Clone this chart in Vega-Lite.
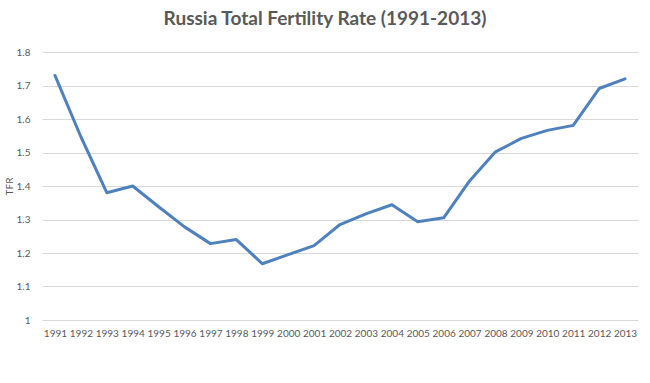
{
  "$schema": "https://vega.github.io/schema/vega-lite/v6.json",
  "autosize": "none",
  "width": 596,
  "height": 268,
  "padding": {"left": 42, "top": 52, "right": 12, "bottom": 63},
  "background": "white",
  "title": {
    "text": "Russia Total Fertility Rate (1991-2013)",
    "font": "Lato",
    "fontSize": 19,
    "fontWeight": "bold",
    "color": "#595959",
    "anchor": "middle",
    "dx": -15,
    "offset": 18
  },
  "data": {
    "values": [
      {"year": "1991", "tfr": 1.73},
      {"year": "1992", "tfr": 1.547},
      {"year": "1993", "tfr": 1.38},
      {"year": "1994", "tfr": 1.40},
      {"year": "1995", "tfr": 1.338},
      {"year": "1996", "tfr": 1.278},
      {"year": "1997", "tfr": 1.228},
      {"year": "1998", "tfr": 1.24},
      {"year": "1999", "tfr": 1.168},
      {"year": "2000", "tfr": 1.195},
      {"year": "2001", "tfr": 1.222},
      {"year": "2002", "tfr": 1.285},
      {"year": "2003", "tfr": 1.317},
      {"year": "2004", "tfr": 1.344},
      {"year": "2005", "tfr": 1.293},
      {"year": "2006", "tfr": 1.305},
      {"year": "2007", "tfr": 1.415},
      {"year": "2008", "tfr": 1.502},
      {"year": "2009", "tfr": 1.542},
      {"year": "2010", "tfr": 1.566},
      {"year": "2011", "tfr": 1.581},
      {"year": "2012", "tfr": 1.691},
      {"year": "2013", "tfr": 1.72}
    ]
  },
  "mark": {"type": "line", "color": "#4F81BD", "strokeWidth": 3, "strokeCap": "round", "strokeJoin": "round"},
  "encoding": {
    "x": {
      "field": "year",
      "type": "ordinal",
      "scale": {"type": "point", "padding": 0.5},
      "axis": {
        "title": null,
        "labelAngle": 0,
        "labelFont": "Lato",
        "labelFontSize": 10,
        "labelColor": "#595959",
        "labelPadding": 8,
        "ticks": false,
        "domain": false,
        "grid": false
      }
    },
    "y": {
      "field": "tfr",
      "type": "quantitative",
      "scale": {"domain": [1, 1.8], "nice": false, "zero": false},
      "axis": {
        "title": "TFR",
        "titleFont": "Lato",
        "titleFontSize": 10,
        "titleFontWeight": "normal",
        "titleColor": "#595959",
        "titlePadding": 2,
        "values": [1, 1.1, 1.2, 1.3, 1.4, 1.5, 1.6, 1.7, 1.8],
        "format": ".1~f",
        "labelFont": "Lato",
        "labelFontSize": 10,
        "labelColor": "#595959",
        "labelPadding": 12,
        "ticks": false,
        "domain": false,
        "grid": true,
        "gridColor": "#d9d9d9",
        "gridWidth": 1
      }
    }
  },
  "config": {"view": {"stroke": null}}
}
